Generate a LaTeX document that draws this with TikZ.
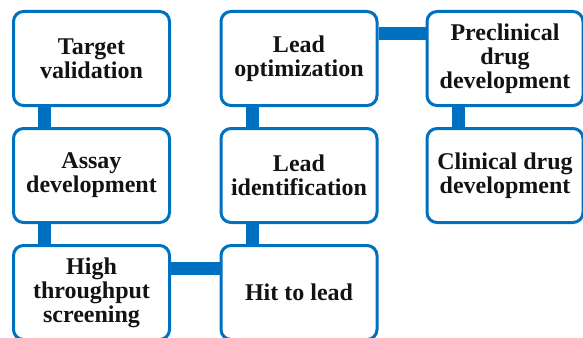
\documentclass[tikz,border=0pt]{standalone}
\usepackage{xcolor}
\definecolor{pipeline-blue}{HTML}{0070C0}
\definecolor{pipeline-black}{HTML}{131313}
\usepackage{fontspec}
\setmainfont{Liberation Serif}
\usepackage{tikz}

\tikzset{
    stage/.style={draw=pipeline-blue, fill=white, line width=3pt, rounded corners=10pt,
                  minimum width=156pt, minimum height=94pt, inner sep=0pt, align=center,
                  text=pipeline-black, font=\fontsize{24}{24}\selectfont\bfseries},
    link/.style={draw=pipeline-blue, line width=13pt}
}

\begin{document}
\begin{tikzpicture}[x=1pt, y=1pt]

    % Page
    \clip (0, 0) rectangle (583, -337);
    \fill[white] (0, 0) rectangle (583, -337);

    % First column
    \node[stage] (target) at (91.5, -58.5) {Target\\validation};
    \node[stage] (assay) at (91.5, -175.5) {Assay\\development};
    \node[stage] (hts) at (91.5, -292.5) {High\\throughput\\screening};

    % Second column
    \node[stage] (leadopt) at (299, -58.5) {Lead\\optimization};
    \node[stage] (leadid) at (299, -175.5) {Lead\\identification};
    \node[stage] (hit) at (299, -292.5) {Hit to lead};

    % Third column
    \node[stage] (preclin) at (505, -58.5) {Preclinical\\drug\\development};
    \node[stage] (clin) at (505, -175.5) {Clinical drug\\development};

    % Links
    \draw[link] ([xshift=32.5pt]target.south west) -- ([xshift=32.5pt]assay.north west);
    \draw[link] ([xshift=32.5pt]assay.south west) -- ([xshift=32.5pt]hts.north west);
    \draw[link] ([yshift=-24pt]hts.north east) -- ([yshift=-24pt]hit.north west);
    \draw[link] ([xshift=32.5pt]hit.north west) -- ([xshift=32.5pt]leadid.south west);
    \draw[link] ([xshift=32.5pt]leadid.north west) -- ([xshift=32.5pt]leadopt.south west);
    \draw[link] ([yshift=-24pt]leadopt.north east) -- ([yshift=-24pt]preclin.north west);
    \draw[link] ([xshift=32.5pt]preclin.south west) -- ([xshift=32.5pt]clin.north west);

\end{tikzpicture}
\end{document}
